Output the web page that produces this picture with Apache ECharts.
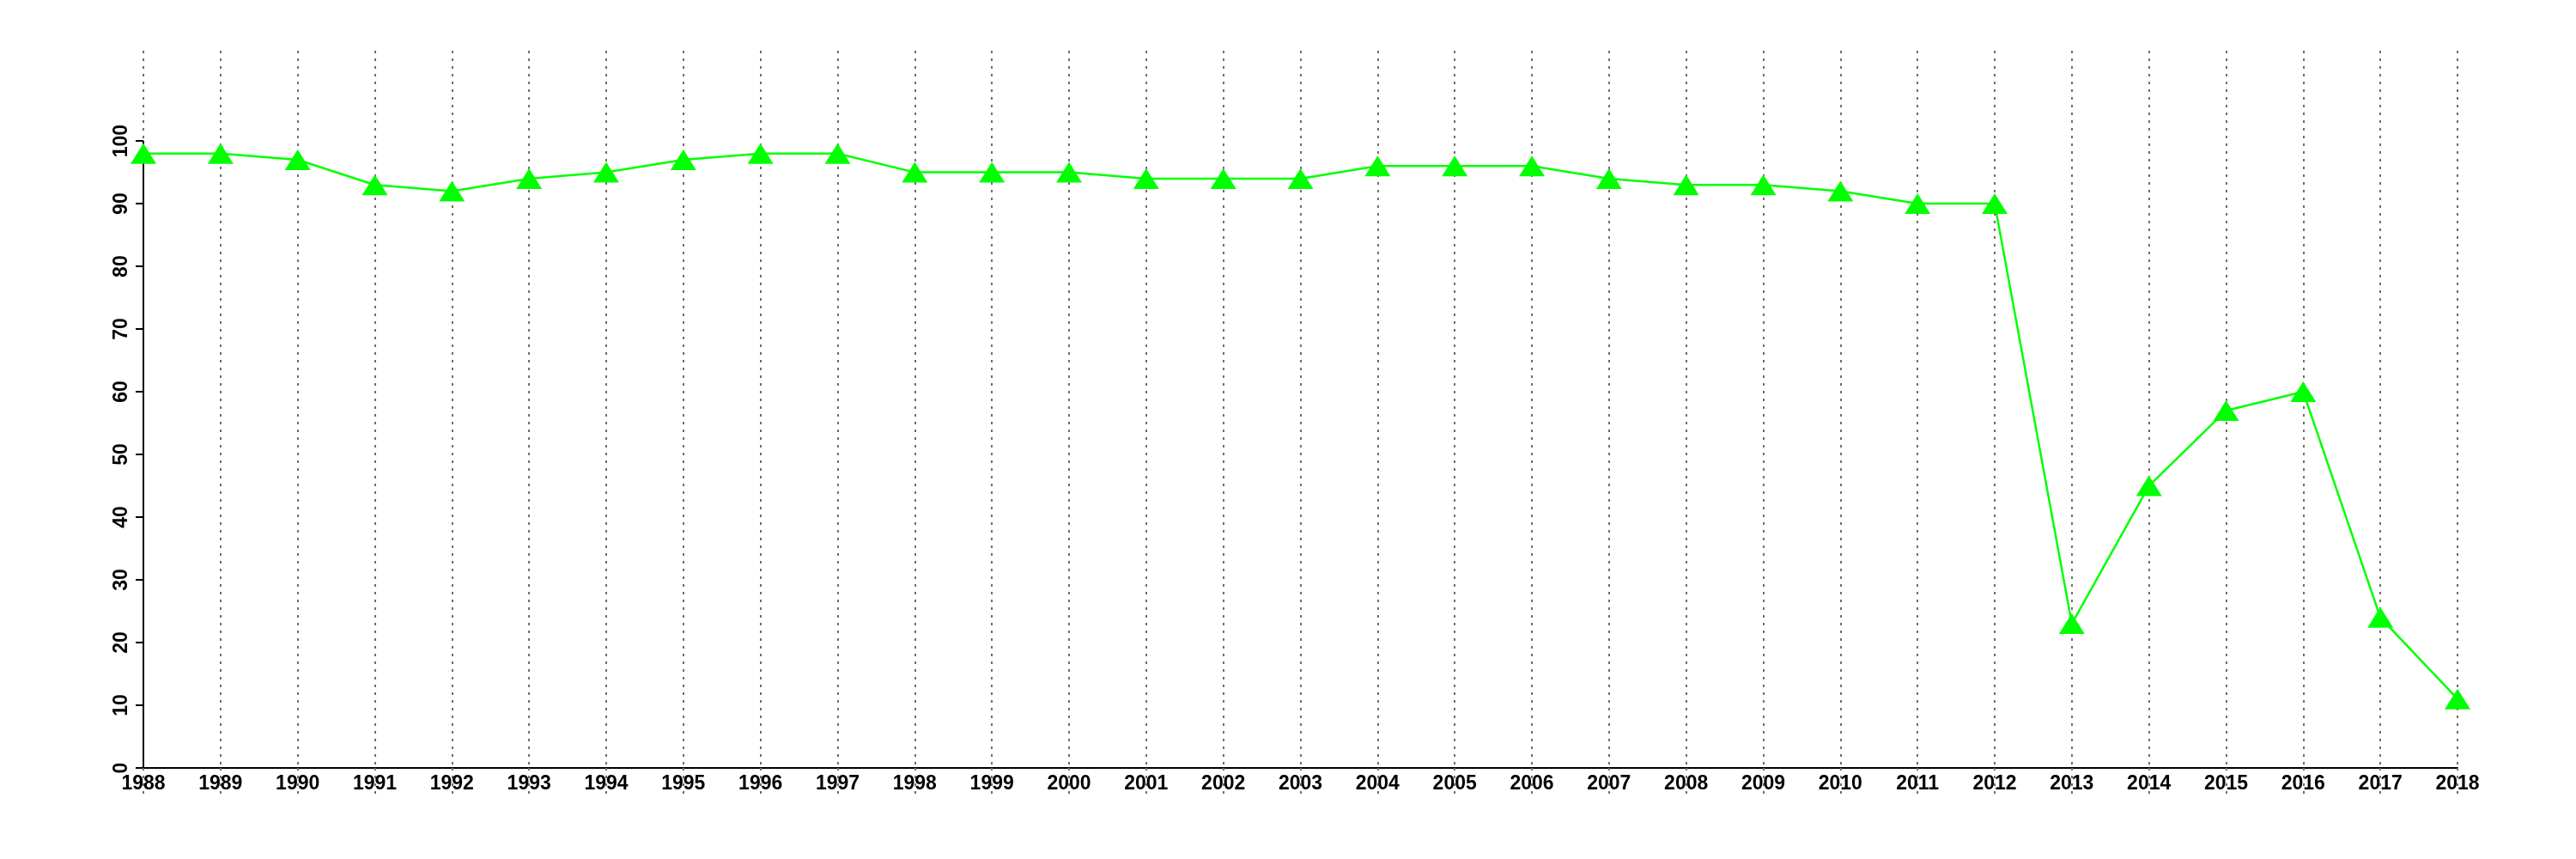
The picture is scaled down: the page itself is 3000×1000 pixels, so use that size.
<!DOCTYPE html>
<html>
<head>
<meta charset="utf-8">
<script src="https://cdn.jsdelivr.net/npm/echarts@6/dist/echarts.min.js"></script>
<style>
html,body{margin:0;padding:0;background:#fff;}
#chart{width:3000px;height:1000px;}
</style>
</head>
<body>
<div id="chart"></div>
<script>
const years = ['1988','1989','1990','1991','1992','1993','1994','1995','1996','1997','1998','1999','2000','2001','2002','2003','2004','2005','2006','2007','2008','2009','2010','2011','2012','2013','2014','2015','2016','2017','2018'];
const values = [98,98,97,93,92,94,95,97,98,98,95,95,95,94,94,94,96,96,96,94,93,93,92,90,90,23,45,57,60,24,11];
const yTicks = [0,10,20,30,40,50,60,70,80,90,100];

const chart = echarts.init(document.getElementById('chart'));
const font = 'Liberation Sans, Arial, Helvetica, sans-serif';
chart.setOption({
  animation: false,
  backgroundColor: '#ffffff',
  grid: {left: 167, right: 138, top: 59, bottom: 106, containLabel: false},
  xAxis: {
    type: 'category',
    data: years,
    boundaryGap: false,
    axisLine: {show: true, onZero: false, lineStyle: {color: '#000', width: 2}},
    axisTick: {show: true, alignWithLabel: true, length: 33, lineStyle: {color: '#6e6e6e', width: 2, type: [3, 6]}},
    axisLabel: {color: '#000', fontFamily: font, fontWeight: 'bold', fontSize: 23, margin: 7, interval: 0},
    splitLine: {show: true, interval: 0, lineStyle: {color: '#6e6e6e', width: 2, type: [3, 6]}}
  },
  yAxis: {
    type: 'value',
    min: 0,
    max: 114.4,
    axisLine: {show: false},
    axisTick: {show: true, length: 9, customValues: yTicks, lineStyle: {color: '#000', width: 2}},
    axisLabel: {show: true, customValues: yTicks, rotate: 90, color: '#000', fontFamily: font, fontWeight: 'bold', fontSize: 23, margin: 14},
    splitLine: {show: false}
  },
  series: [{
    type: 'line',
    data: values,
    symbol: 'triangle',
    symbolSize: [30, 24],
    itemStyle: {color: '#00ff00'},
    lineStyle: {color: '#00ff00', width: 2.5},
    z: 5,
    markLine: {
      silent: true,
      symbol: 'none',
      label: {show: false},
      lineStyle: {color: '#000', width: 2, type: 'solid'},
      data: [[{coord: [years[0], yTicks[0]]}, {coord: [years[0], yTicks[yTicks.length - 1]]}]]
    }
  }]
});
</script>
</body>
</html>
